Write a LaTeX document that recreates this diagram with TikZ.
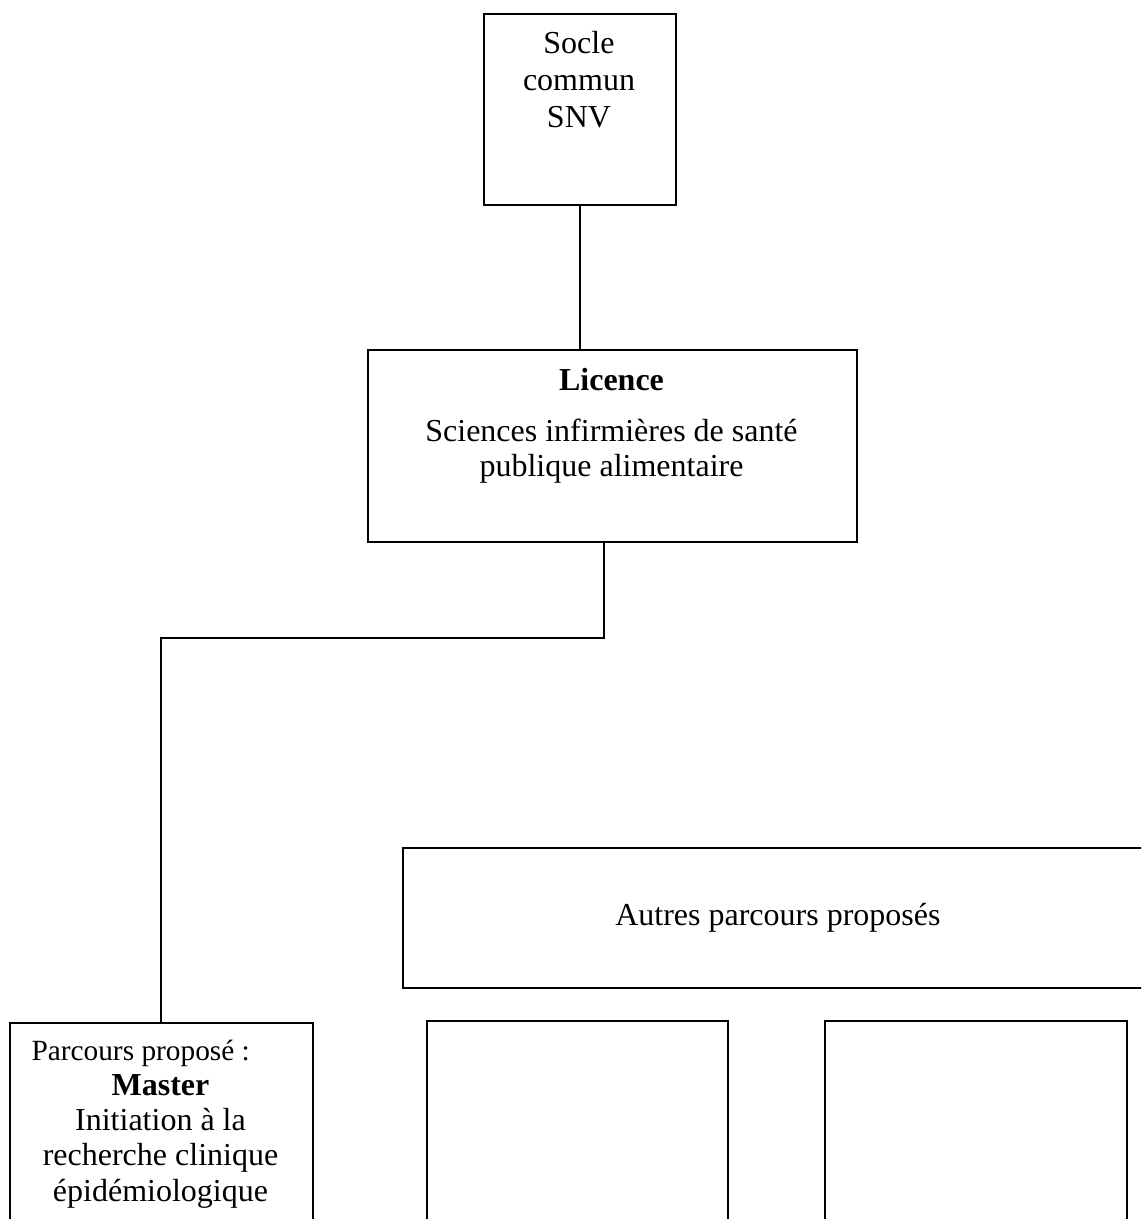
\documentclass[tikz,border=0pt]{standalone}
\usepackage{fontspec}
\setmainfont{Liberation Serif}
\newcommand{\mylines}[1]{\setlength{\tabcolsep}{0pt}\begin{tabular}[t]{@{}c@{}}#1\end{tabular}}
\begin{document}
\begin{tikzpicture}[x=0.375pt, y=-0.375pt,
  box/.style={draw, line width=0.7pt, inner sep=0pt, anchor=north west},
  txt/.style={inner sep=0pt, font=\fontsize{12}{13.3}\selectfont},
  conn/.style={draw, line width=0.7pt}]
\useasboundingbox (0,0) rectangle (1141,1219);
\clip (0,0) rectangle (1141,1219);
\fill[white] (0,0) rectangle (1141,1219);
% boxes
\node[box, minimum width=72pt, minimum height=71.6pt] (socle) at (483,13) {};
\node[box, minimum width=183.4pt, minimum height=72pt] (licence) at (367,349) {};
\node[box, minimum width=281.25pt, minimum height=52.5pt, font=\fontsize{12}{14}\selectfont] (autres) at (402,847) {Autres parcours proposés};
\node[box, minimum width=113.6pt, minimum height=90pt] (master) at (9,1022) {};
\node[box, minimum width=112.9pt, minimum height=90pt] (e1) at (426,1020) {};
\node[box, minimum width=113.25pt, minimum height=90pt] (e2) at (824,1020) {};
% texts
\node[txt, anchor=base, font=\fontsize{12}{14}\selectfont] (socleT) at (579,53) {\mylines{Socle\\commun\\SNV}};
\node[txt, anchor=base, font=\fontsize{12}{13.1}\selectfont] (licenceT) at (611.5,390) {\mylines{\textbf{Licence}\\[6.3pt]Sciences infirmières de santé\\publique alimentaire}};
\node[txt, anchor=base west, font=\fontsize{11}{13}\selectfont] (parcoursT) at (31,1060) {Parcours proposé :};
\node[txt, anchor=base] (masterT) at (160.5,1095) {\mylines{\textbf{Master}\\Initiation à la\\recherche clinique\\épidémiologique}};
% connectors
\draw[conn] (socle.south) -- (socle.south |- licence.north);
\draw[conn] ([xshift=-3.19pt]licence.south) -- ++(0,95) -| (master.north);
\end{tikzpicture}
\end{document}
